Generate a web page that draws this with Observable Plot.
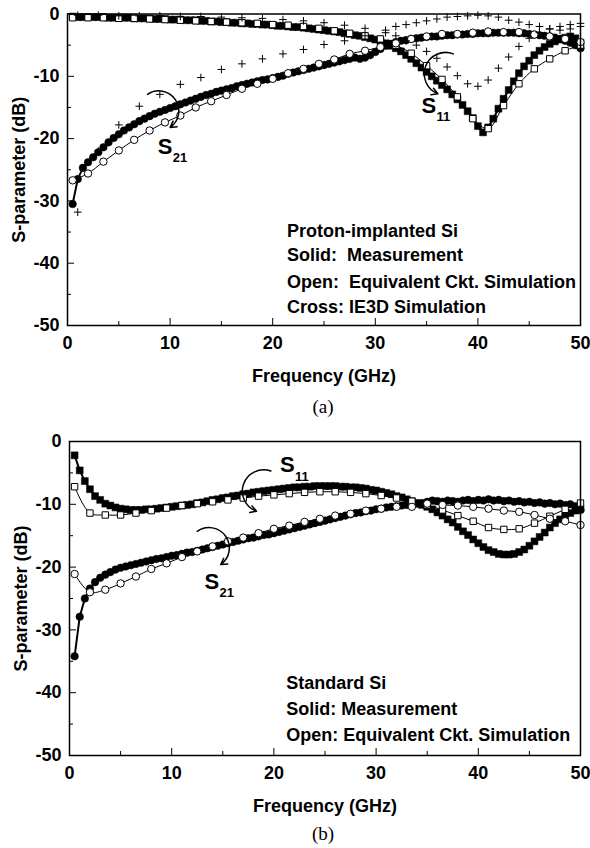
<!DOCTYPE html>
<html><head><meta charset="utf-8">
<script src="https://cdn.jsdelivr.net/npm/d3@7"></script>
<script src="https://cdn.jsdelivr.net/npm/@observablehq/plot@0.6"></script>
<style>
body{margin:0;background:#fff;width:590px;height:848px;position:relative;overflow:hidden}
.panel{position:absolute;left:0}
.cap{position:absolute;left:0;width:646px;text-align:center;font-family:"Liberation Serif","Times New Roman",serif;font-size:19px;color:#000}
</style></head><body>
<div id="pa" class="panel" style="top:0"></div>
<div class="cap" style="top:396px">(a)</div>
<div id="pb" class="panel" style="top:425px"></div>
<div class="cap" style="top:823px">(b)</div>
<script>
// ---------- data ----------
const xMajorTicks = [0, 10, 20, 30, 40, 50];
const xMinorTicks = [5, 15, 25, 35, 45];
const yMajorTicks = [0, -10, -20, -30, -40, -50];
const yMinorTicks = [-5, -15, -25, -35, -45];

// frequency grids (GHz)
const freqMeas = d3.range(0.5, 50.01, 0.5);   // measurement sampling
const freqCkt  = d3.range(0.5, 50.01, 1.5);   // equivalent-circuit sampling

// (a) Proton-implanted Si
const a_S11_meas = [-0.4,-0.5,-0.5,-0.5,-0.5,-0.5,-0.5,-0.6,-0.6,-0.6,-0.6,-0.6,-0.7,-0.7,-0.7,-0.7,-0.8,-0.8,-0.8,-0.9,
  -0.9,-0.9,-1.0,-1.0,-1.0,-1.1,-1.1,-1.2,-1.2,-1.3,-1.3,-1.4,-1.4,-1.5,-1.5,-1.6,-1.6,-1.7,-1.7,-1.8,
  -1.9,-1.9,-2.0,-2.1,-2.1,-2.2,-2.3,-2.4,-2.5,-2.6,-2.7,-2.8,-2.9,-3.1,-3.2,-3.4,-3.5,-3.7,-3.9,-4.1,
  -4.4,-4.7,-5.1,-5.5,-6.0,-6.6,-7.2,-7.9,-8.6,-9.3,-10.0,-10.7,-11.4,-12.1,-12.9,-13.7,-14.6,-15.6,-16.7,-18.0,
  -19.0,-18.2,-16.8,-15.2,-13.6,-12.2,-10.8,-9.5,-8.4,-7.5,-6.6,-5.9,-5.3,-4.8,-4.4,-4.1,-3.8,-3.6,-3.9,-4.6];
const a_S21_meas = [-30.5,-26.5,-24.7,-23.8,-23.0,-22.2,-21.4,-20.6,-19.9,-19.3,-18.7,-18.2,-17.7,-17.2,-16.8,-16.4,-16.0,-15.7,-15.4,-15.1,
  -14.8,-14.5,-14.2,-13.9,-13.6,-13.3,-13.0,-12.8,-12.5,-12.3,-12.1,-11.9,-11.6,-11.4,-11.2,-11.0,-10.8,-10.6,-10.5,-10.3,
  -10.1,-9.9,-9.6,-9.4,-9.2,-9.0,-8.8,-8.6,-8.4,-8.2,-8.0,-7.8,-7.6,-7.4,-7.2,-7.0,-7.2,-7.0,-6.6,-6.1,
  -5.6,-5.1,-4.8,-4.5,-4.3,-4.2,-4.0,-3.9,-3.8,-3.7,-3.6,-3.6,-3.5,-3.4,-3.4,-3.3,-3.3,-3.2,-3.2,-3.1,
  -3.1,-3.1,-3.0,-3.0,-3.0,-3.0,-3.0,-3.1,-3.1,-3.2,-3.3,-3.4,-3.5,-3.6,-3.8,-4.0,-4.3,-4.6,-5.0,-5.5];
const a_S11_ckt = [-0.6,-0.6,-0.6,-0.7,-0.7,-0.8,-0.9,-1.0,-1.1,-1.2,-1.3,-1.4,-1.5,-1.7,-1.8,-2.0,-2.3,
  -2.7,-3.1,-3.5,-4.0,-5.0,-6.3,-8.3,-10.5,-13.3,-16.8,-18.4,-14.7,-11.2,-8.8,-7.2,-5.9,-5.0];
const a_S21_ckt = [-26.7,-25.6,-23.7,-21.9,-20.2,-18.7,-17.4,-16.3,-15.0,-14.0,-13.0,-12.0,-11.2,-10.4,-9.5,-8.8,-8.0,
  -7.3,-6.4,-5.9,-5.3,-4.7,-4.0,-3.6,-3.2,-3.2,-3.0,-2.8,-2.9,-2.9,-3.3,-3.6,-4.0,-4.5];
const freqIE3D = [1,3,5,7,9,11,13,15,17,19,21,23,25,27,29,31,32,33,34,35,36,37,38,39,40,41,42,43,44,45,46,47,48,49,50];
const a_S11_ie3d = [-0.2,-0.2,-0.3,-0.3,-0.3,-0.4,-0.4,-0.5,-0.6,-0.7,-0.9,-1.1,-1.4,-1.8,-2.3,-3.0,-3.5,-4.3,-5.0,-6.0,
  -7.1,-8.5,-9.9,-11.2,-11.6,-10.6,-8.7,-6.9,-5.2,-3.9,-3.0,-2.4,-2.0,-1.7,-1.5];
const a_S21_ie3d = [-31.8,-22.0,-17.8,-14.8,-12.9,-11.3,-10.2,-8.9,-8.0,-7.2,-6.4,-5.7,-4.9,-4.3,-3.5,-2.6,-2.0,-1.7,-1.4,-1.1,
  -0.8,-0.5,-0.4,-0.3,-0.2,-0.3,-0.5,-1.0,-1.3,-1.7,-2.0,-2.4,-2.6,-2.4,-2.0];

// (b) Standard Si
const b_S11_meas = [-2.2,-4.6,-6.3,-7.6,-8.7,-9.3,-9.9,-10.2,-10.5,-10.7,-10.8,-10.9,-10.9,-10.9,-10.8,-10.8,-10.7,-10.6,-10.5,-10.4,
  -10.3,-10.2,-10.1,-10.0,-9.8,-9.7,-9.5,-9.3,-9.2,-9.0,-8.9,-8.7,-8.6,-8.4,-8.3,-8.1,-8.0,-7.9,-7.8,-7.7,
  -7.6,-7.5,-7.4,-7.3,-7.3,-7.2,-7.2,-7.1,-7.1,-7.1,-7.1,-7.1,-7.2,-7.2,-7.3,-7.3,-7.4,-7.5,-7.7,-7.8,
  -8.0,-8.2,-8.4,-8.7,-8.9,-9.2,-9.5,-9.8,-10.1,-10.4,-10.8,-11.3,-11.8,-12.4,-12.9,-13.6,-14.3,-14.9,-15.6,-16.2,
  -16.8,-17.3,-17.6,-17.9,-18.0,-18.0,-17.9,-17.6,-17.2,-16.6,-15.9,-15.2,-14.5,-13.7,-13.0,-12.4,-11.9,-11.4,-11.0,-10.7];
const b_S21_meas = [-34.2,-27.9,-25.0,-23.4,-22.4,-21.7,-21.2,-20.8,-20.4,-20.1,-19.9,-19.7,-19.5,-19.3,-19.1,-18.9,-18.7,-18.6,-18.4,-18.2,
  -18.1,-17.9,-17.7,-17.6,-17.4,-17.2,-17.0,-16.8,-16.6,-16.4,-16.2,-16.0,-15.8,-15.6,-15.4,-15.3,-15.1,-14.9,-14.8,-14.6,
  -14.4,-14.2,-14.0,-13.8,-13.6,-13.4,-13.2,-13.0,-12.8,-12.6,-12.4,-12.2,-12.0,-11.8,-11.6,-11.4,-11.3,-11.1,-11.0,-10.8,
  -10.7,-10.5,-10.4,-10.3,-10.2,-10.1,-10.0,-9.9,-9.8,-9.6,-9.4,-9.5,-9.6,-9.4,-9.5,-9.6,-9.4,-9.3,-9.5,-9.3,
  -9.4,-9.2,-9.4,-9.3,-9.5,-9.4,-9.6,-9.5,-9.7,-9.6,-9.8,-9.7,-9.9,-9.8,-10.0,-9.9,-10.1,-10.0,-10.3,-10.9];
const b_S11_ckt = [-7.2,-11.4,-11.7,-11.7,-11.4,-11.0,-10.6,-10.2,-9.9,-9.6,-9.3,-9.0,-8.7,-8.5,-8.3,-8.1,-8.0,
  -8.0,-8.1,-8.3,-8.6,-9.0,-9.5,-10.1,-10.9,-11.8,-12.7,-13.7,-14.0,-13.9,-13.0,-11.9,-10.8,-9.8];
const b_S21_ckt = [-21.1,-24.0,-23.6,-22.6,-21.5,-20.3,-19.4,-18.4,-17.5,-16.7,-15.9,-15.3,-14.6,-13.9,-13.4,-12.8,-12.3,
  -11.8,-11.5,-11.0,-10.7,-10.4,-10.4,-9.9,-10.1,-10.2,-10.4,-10.7,-11.0,-11.2,-11.7,-12.3,-12.7,-13.3];

// annotations (data coordinates)
const a_notes = ["Proton-implanted Si", "Solid:\u00a0\u00a0Measurement", "Open:\u00a0\u00a0Equivalent Ckt. Simulation", "Cross: IE3D Simulation"];
const a_noteY = [-34.8, -38.8, -43.1, -47.1];
const b_notes = ["Standard Si", "Solid: Measurement", "Open: Equivalent Ckt. Simulation"];
const b_noteY = [-38.5, -42.7, -46.8];
const a_labels = [{x: 8.8, y: -21.4, sub: "21"}, {x: 34.5, y: -14.7, sub: "11"}];
const b_labels = [{x: 20.6, y: -3.8, sub: "11"}, {x: 13.2, y: -22.3, sub: "21"}];
const a_arrows = [{x1: 7.8, y1: -12.9, x2: 10.0, y2: -18.2, bend: 90}, {x1: 37.6, y1: -6.4, x2: 36.1, y2: -12.8, bend: -90}];
const b_arrows = [{x1: 19.7, y1: -4.7, x2: 18.3, y2: -11.1, bend: -90}, {x1: 12.5, y1: -14.3, x2: 14.8, y2: -19.6, bend: 90}];

// ---------- drawing ----------
const FONT = '"Liberation Sans", Arial, Helvetica, sans-serif';
const toPts = (xs, ys) => ys.map((y, i) => ({x: xs[i], y}));

function panel({height, marginTop, marginLeft, marginRight, marginBottom, meas, ckt, ie3d, notes, noteY, noteX, labels, arrows}) {
  const marks = [];
  for (const m of meas) {
    const pts = toPts(freqMeas, m.values);
    marks.push(Plot.line(pts, {x: "x", y: "y", stroke: "black", strokeWidth: 2}));
    marks.push(Plot.dot(pts, {x: "x", y: "y", symbol: m.symbol, r: m.symbol === "square" ? 3.9 : 3.8, fill: "black", stroke: "black", strokeWidth: 0.5}));
  }
  for (const c of ckt) {
    const pts = toPts(freqCkt, c.values);
    marks.push(Plot.line(pts, {x: "x", y: "y", stroke: "black", strokeWidth: 1, curve: "catmull-rom"}));
    marks.push(Plot.dot(pts, {x: "x", y: "y", symbol: c.symbol, r: c.symbol === "square" ? 3.6 : 3.7, fill: "white", stroke: "black", strokeWidth: 1}));
  }
  for (const s of ie3d) {
    marks.push(Plot.dot(toPts(freqIE3D, s), {x: "x", y: "y", symbol: "plus", r: 2.6, stroke: "black", strokeWidth: 1}));
  }
  for (const a of arrows) {
    marks.push(Plot.arrow([a], {x1: "x1", y1: "y1", x2: "x2", y2: "y2", bend: a.bend, stroke: "black", strokeWidth: 1.5, headLength: 7}));
  }
  marks.push(Plot.text(labels, {x: "x", y: "y", text: () => "S", fontSize: 22, fontWeight: "bold", textAnchor: "start", lineAnchor: "middle"}));
  marks.push(Plot.text(labels, {x: "x", y: "y", text: "sub", fontSize: 13, fontWeight: "bold", textAnchor: "start", lineAnchor: "middle", dx: 15, dy: 11}));
  marks.push(Plot.text(notes, {x: () => noteX, y: (d, i) => noteY[i], text: d => d, fontSize: 18, fontWeight: "bold", textAnchor: "start", lineAnchor: "middle"}));
  marks.push(Plot.axisX(xMajorTicks, {anchor: "bottom", tickSize: -7, tickPadding: 18, tickFormat: d => String(d), fontSize: 18, fontWeight: "bold",
    label: "Frequency (GHz)", labelAnchor: "center", labelArrow: "none", labelOffset: 56}));
  marks.push(Plot.axisX(xMinorTicks, {anchor: "bottom", tickSize: -4, tickFormat: () => "", label: null}));
  marks.push(Plot.axisY(yMajorTicks, {anchor: "left", tickSize: -7, tickPadding: 15, tickFormat: d => String(d), fontSize: 18, fontWeight: "bold",
    label: "S-parameter (dB)", labelAnchor: "center", labelArrow: "none", labelOffset: 55}));
  marks.push(Plot.axisY(yMinorTicks, {anchor: "left", tickSize: -4, tickFormat: () => "", label: null}));
  marks.push(Plot.frame({stroke: "black", strokeWidth: 1.5}));
  return Plot.plot({
    width: 590, height, marginTop, marginLeft, marginRight, marginBottom,
    x: {domain: [0, 50]}, y: {domain: [-50, 0]},
    style: {fontFamily: FONT, fontSize: "18px", fontWeight: "bold", color: "black", background: "white", overflow: "visible"},
    marks
  });
}

document.getElementById("pa").append(panel({
  height: 385, marginTop: 13.5, marginLeft: 67, marginRight: 10, marginBottom: 60,
  meas: [{values: a_S11_meas, symbol: "square"}, {values: a_S21_meas, symbol: "circle"}],
  ckt: [{values: a_S11_ckt, symbol: "square"}, {values: a_S21_ckt, symbol: "circle"}],
  ie3d: [a_S11_ie3d, a_S21_ie3d],
  notes: a_notes, noteY: a_noteY, noteX: 21.4, labels: a_labels, arrows: a_arrows
}));
document.getElementById("pb").append(panel({
  height: 390, marginTop: 16, marginLeft: 69, marginRight: 10, marginBottom: 60,
  meas: [{values: b_S11_meas, symbol: "square"}, {values: b_S21_meas, symbol: "circle"}],
  ckt: [{values: b_S11_ckt, symbol: "square"}, {values: b_S21_ckt, symbol: "circle"}],
  ie3d: [],
  notes: b_notes, noteY: b_noteY, noteX: 21.2, labels: b_labels, arrows: b_arrows
}));
</script>
</body></html>
